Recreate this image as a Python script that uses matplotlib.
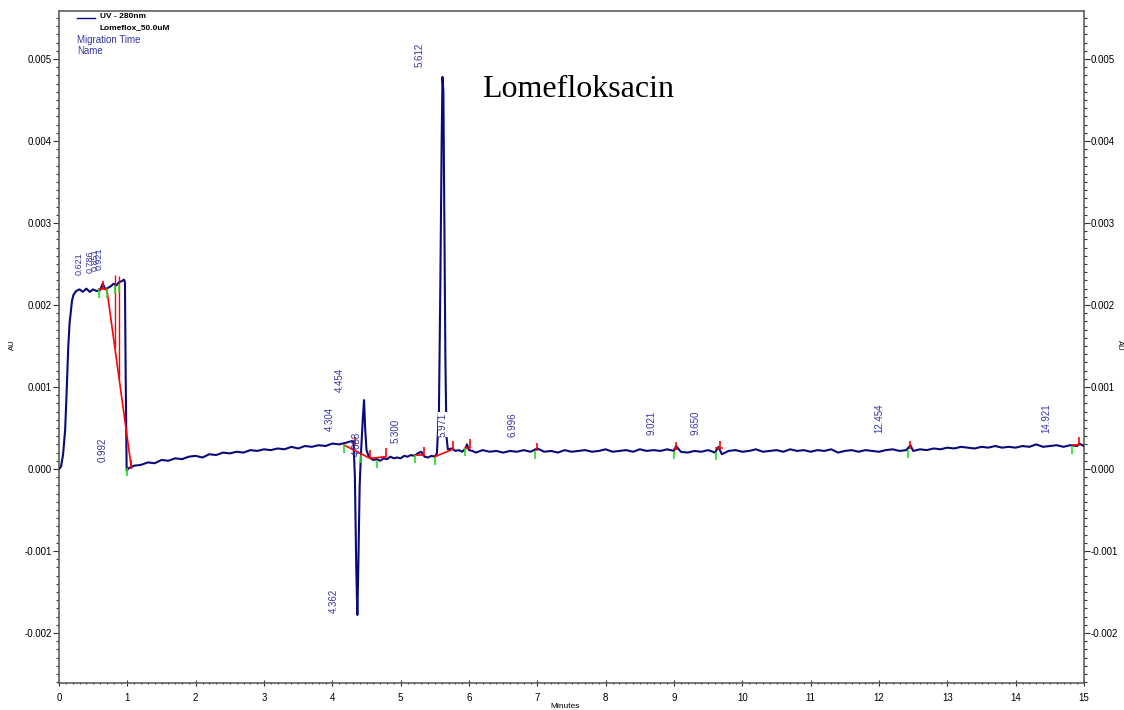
import matplotlib
matplotlib.use("Agg")
import matplotlib.pyplot as plt
from matplotlib.ticker import MultipleLocator

# electropherogram trace (minutes, AU)
time = [0.0, 0.03, 0.06, 0.09, 0.11, 0.136, 0.155, 0.17, 0.19, 0.21, 0.25, 0.30, 0.35, 0.40,
        0.45, 0.50, 0.55, 0.60, 0.64, 0.68, 0.72, 0.76, 0.80, 0.84, 0.88, 0.92, 0.95, 0.965,
        0.975, 0.99, 1.02,
        1.1, 1.2, 1.3, 1.4, 1.5, 1.6, 1.7, 1.8, 1.9, 2.0, 2.1, 2.2, 2.3, 2.4, 2.5, 2.6, 2.7,
        2.8, 2.9, 3.0, 3.1, 3.2, 3.3, 3.4, 3.5, 3.6, 3.7, 3.8, 3.9, 4.0, 4.1, 4.2, 4.28, 4.31,
        4.33, 4.35, 4.366, 4.38, 4.40, 4.42, 4.445, 4.464, 4.48, 4.50, 4.53, 4.56, 4.60, 4.65,
        4.7, 4.75, 4.8, 4.85, 4.9, 4.95, 5.0, 5.05, 5.1, 5.15, 5.2, 5.25, 5.3, 5.35, 5.4, 5.45,
        5.5, 5.53, 5.56, 5.58, 5.60, 5.612, 5.625, 5.64, 5.655, 5.67, 5.69, 5.75, 5.8, 5.85,
        5.9, 5.95, 5.97, 6.0, 6.05, 6.1,
        6.2, 6.3, 6.4, 6.5, 6.6, 6.7, 6.8, 6.9, 7.0, 7.1, 7.2, 7.3, 7.4, 7.5, 7.6, 7.7, 7.8,
        7.9, 8.0, 8.1, 8.2, 8.3, 8.4, 8.5, 8.6, 8.7, 8.8, 8.9, 9.0, 9.03, 9.1, 9.2, 9.3, 9.4,
        9.5, 9.6, 9.65, 9.7, 9.8, 9.9, 10.0, 10.1, 10.2, 10.3, 10.4, 10.5, 10.6, 10.7, 10.8,
        10.9, 11.0, 11.1, 11.2, 11.3, 11.4, 11.5, 11.6, 11.7, 11.8, 11.9, 12.0, 12.1, 12.2,
        12.3, 12.4, 12.46, 12.5, 12.6, 12.7, 12.8, 12.9, 13.0, 13.1, 13.2, 13.3, 13.4, 13.5,
        13.6, 13.7, 13.8, 13.9, 14.0, 14.1, 14.2, 14.3, 14.4, 14.5, 14.6, 14.7, 14.8, 14.9,
        14.93, 15.0]
au = [0.0, 0.00003, 0.00018, 0.00048, 0.0009, 0.0015, 0.00178, 0.0019, 0.00205, 0.00212,
      0.00217, 0.00219, 0.00216, 0.00220, 0.00216, 0.00219, 0.00217, 0.00218, 0.00226,
      0.00219, 0.00221, 0.00223, 0.00226, 0.00224, 0.00228, 0.00229, 0.00231, 0.00228,
      0.0012, -0.00002, 0.00001,
      0.00004, 0.00005, 0.00008, 0.00007, 0.00011, 0.00010, 0.00013, 0.00012, 0.00015,
      0.00016, 0.00014, 0.00018, 0.00017, 0.00020, 0.00019, 0.00021, 0.00020, 0.00023,
      0.00022, 0.00024, 0.00023, 0.00025, 0.00024, 0.00027, 0.00025, 0.00028, 0.00027,
      0.00029, 0.00028, 0.00031, 0.00030, 0.00032, 0.00034, 0.00033,
      -0.0001, -0.0012, -0.00178, -0.0012, -0.0002, 0.0002, 0.0006, 0.00084, 0.0005,
      0.00023, 0.00016, 0.00013, 0.00011, 0.00012, 0.00010, 0.00013, 0.00012, 0.00015,
      0.00013, 0.00014, 0.00013, 0.00016, 0.00015, 0.00017, 0.00016, 0.00019, 0.00021,
      0.00015, 0.00014, 0.00016, 0.00015, 0.00019, 0.0007, 0.0022, 0.0040, 0.00478,
      0.0046, 0.0030, 0.0013, 0.0004, 0.00024, 0.00025, 0.00022, 0.00023, 0.00021,
      0.00025, 0.00030, 0.00023, 0.00022, 0.00020,
      0.00023, 0.00021, 0.00022, 0.00020, 0.00022, 0.00021, 0.00023, 0.00021, 0.00025,
      0.00021, 0.00022, 0.00020, 0.00023, 0.00021, 0.00022, 0.00023, 0.00021, 0.00022,
      0.00024, 0.00021, 0.00022, 0.00023, 0.00021, 0.00024, 0.00022, 0.00023, 0.00022,
      0.00024, 0.00022, 0.00028, 0.00021, 0.00020, 0.00022, 0.00021, 0.00023, 0.00020,
      0.00027, 0.00018, 0.00022, 0.00023, 0.00021, 0.00022, 0.00024, 0.00021, 0.00022,
      0.00023, 0.00021, 0.00024, 0.00022, 0.00023, 0.00021, 0.00023, 0.00022, 0.00024,
      0.00020, 0.00022, 0.00023, 0.00021, 0.00023, 0.00022, 0.00021, 0.00023, 0.00024,
      0.00022, 0.00023, 0.00029, 0.00022, 0.00024, 0.00023, 0.00025, 0.00024, 0.00026,
      0.00025, 0.00027, 0.00026, 0.00025, 0.00027, 0.00026, 0.00028, 0.00026, 0.00027,
      0.00026, 0.00028, 0.00027, 0.00030, 0.00027, 0.00028, 0.00029, 0.00027, 0.00029,
      0.00028, 0.00031, 0.00028]

# peak labels (migration times) and where they are printed
peak_names = ["0.621", "0.786", "0.851", "0.921", "0.992", "4.304", "4.362", "4.454",
              "4.688", "5.300", "5.612", "5.971", "6.996", "9.021", "9.650", "12.454", "14.921"]
label_t = [0.29, 0.46, 0.53, 0.59, 0.64, 3.97, 4.02, 4.11, 4.36, 4.93, 5.28, 5.62, 6.64,
           8.67, 9.31, 12.00, 14.45]
label_au = [0.00237, 0.00239, 0.00241, 0.00243, 0.00009, 0.00046, -0.00176, 0.00094,
            0.00016, 0.00032, 0.0049, 0.00039, 0.00039, 0.00041, 0.00041, 0.00044, 0.00044]

# integration marks
start_t = [0.58, 0.70, 0.82, 0.88, 0.99, 4.175, 4.42, 4.66, 5.21, 5.50, 5.94, 6.96, 9.00,
           9.62, 12.43, 14.82]
start_au = [0.00219, 0.00219, 0.00223, 0.00226, 0.00001, 0.00029, 0.00017, 0.00011,
            0.00017, 0.00015, 0.00026, 0.00022, 0.00022, 0.00021, 0.00023, 0.00028]
end_t = [0.64, 1.06, 4.33, 4.55, 4.785, 5.34, 5.76, 6.02, 7.0, 9.03, 9.68, 12.46, 14.93]
end_au = [0.00219, 0.00001, 0.00029, 0.00013, 0.00015, 0.00017, 0.00024, 0.00026,
          0.00022, 0.00023, 0.00024, 0.00024, 0.00029]
base_segments = [
    ([0.58, 0.70], [0.00219, 0.00219]),
    ([0.70, 1.06], [0.00219, 0.00001]),
    ([4.175, 4.55, 4.785], [0.00029, 0.00013, 0.00015]),
    ([5.21, 5.34], [0.00017, 0.00017]),
    ([5.50, 5.76], [0.00015, 0.00024]),
    ([5.94, 6.02], [0.00026, 0.00026]),
    ([9.00, 9.05], [0.00024, 0.00024]),
    ([9.62, 9.70], [0.00025, 0.00025]),
    ([14.82, 14.93], [0.00029, 0.00029]),
]
drop_t = [0.82, 0.88]
drop_lo = [0.00147, 0.00110]
drop_hi = [0.00236, 0.00235]

navy = "#0a0a7a"
lab_blue = "#3535a5"
frame = "#606060"

plt.rcParams['font.family'] = ['Liberation Sans', 'DejaVu Sans']

fig = plt.figure(figsize=(11.24, 7.1), dpi=100)
ax = fig.add_axes([59/1124, 1-683/710, 1025/1124, 672/710])

ax.plot(time, au, color=navy, lw=1.5, zorder=3)

for xs, ys in base_segments:
    ax.plot(xs, ys, color="red", lw=1.2, zorder=4)
ax.vlines(drop_t, drop_lo, drop_hi, color="red", lw=1.0, zorder=4)
ax.vlines(start_t, [v - 0.0001 for v in start_au], start_au, color="#22dd22", lw=1.2, zorder=4)
ax.vlines(end_t, end_au, [v + 0.0001 for v in end_au], color="red", lw=1.2, zorder=4)

for name, tx, ty in zip(peak_names, label_t, label_au):
    kw = {}
    if name == "5.971":
        kw = dict(bbox=dict(facecolor="white", edgecolor="none", pad=0.3))
    size = 6.5 if tx < 0.62 else 7
    ax.text(tx, ty, name, rotation=90, color=lab_blue, fontsize=size,
            ha="center", va="bottom", zorder=5, **kw)

ax.text(6.19, 0.00454, "Lomefloksacin", family="Liberation Serif", fontsize=23,
        color="black", ha="left", va="baseline")

ax.set_xlim(0, 15)
ax.set_ylim(-0.00261, 0.005585)
ax.xaxis.set_major_locator(MultipleLocator(1))
ax.xaxis.set_minor_locator(MultipleLocator(0.1))
ax.yaxis.set_major_locator(MultipleLocator(0.001))
ax.yaxis.set_minor_locator(MultipleLocator(0.0001))
ax.yaxis.set_major_formatter(plt.FuncFormatter(lambda v, p: f"{v:.3f}"))
ax.tick_params(axis="both", which="major", labelsize=7, color="#333333", length=4, width=0.8)
ax.tick_params(axis="both", which="minor", color="#333333", length=2, width=0.8)
ax.tick_params(axis="y", which="both", left=True, right=True, labelleft=True, labelright=True,
               direction="out", pad=1)
ax.tick_params(axis="x", which="both", direction="inout", pad=5)
for s in ax.spines.values():
    s.set_color(frame)
    s.set_linewidth(1.2)

fig.text(12/1124, 1-345/710, "AU", rotation=90, fontsize=5.5, ha="center", va="center")
fig.text(1119/1124, 1-345/710, "AU", rotation=270, fontsize=5.5, ha="center", va="center")
fig.text(565/1124, 1-707/710, "Minutes", fontsize=6, ha="center", va="center")

# legend block at top-left
fig.lines.append(plt.Line2D([77/1124, 95/1124], [1-18/710, 1-18/710], color=navy, lw=1,
                            transform=fig.transFigure))
fig.text(100/1124, 1-17/710, "UV - 280nm", fontsize=6, weight="bold", va="center")
fig.text(100/1124, 1-28/710, "Lomeflox_50.0uM", fontsize=6, weight="bold", va="center")
fig.text(77/1124, 1-40/710, "Migration Time", fontsize=7, color=lab_blue, va="center")
fig.text(77/1124, 1-51/710, "Name", fontsize=7, color=lab_blue, va="center")

fig.savefig("out.png", dpi=100)
